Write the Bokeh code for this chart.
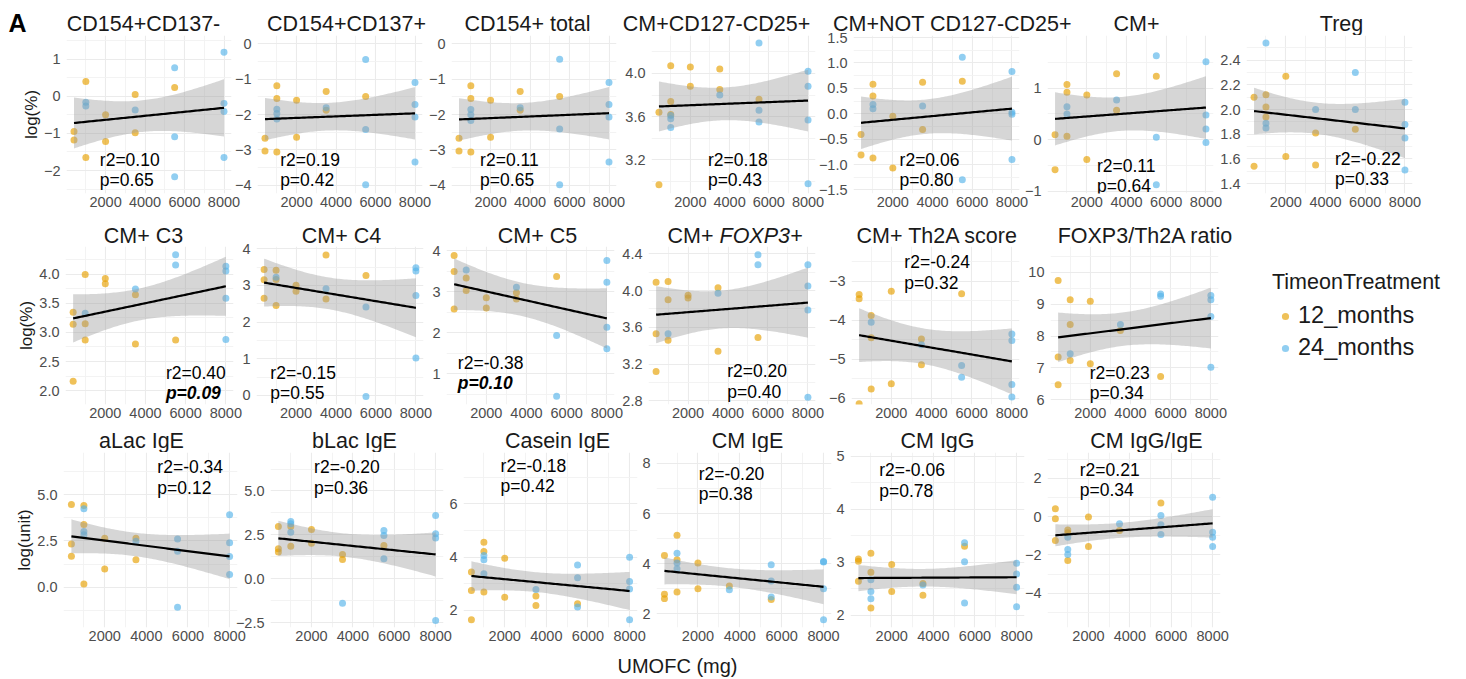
import numpy as np
from bokeh.plotting import figure
from bokeh.layouts import row, column
from bokeh.models import Range1d, FixedTicker, Label, Legend, LegendItem, CustomJSTickFormatter
from bokeh.embed import file_html
from bokeh.resources import INLINE

# ---------------- data ----------------
GROUPS = ["12_months", "24_months"]
X_TICKS = [2000, 4000, 6000, 8000]
X_MINOR = [1000, 3000, 5000, 7000]

TITLES = ["CD154+CD137-", "CD154+CD137+", "CD154+ total", "CM+CD127-CD25+", "CM+NOT CD127-CD25+",
          "CM+", "Treg", "CM+ C3", "CM+ C4", "CM+ C5", "CM+ FOXP3+", "CM+ Th2A score",
          "FOXP3/Th2A ratio", "aLac IgE", "bLac IgE", "Casein IgE", "CM IgE", "CM IgG", "CM IgG/IgE"]
STAT_R2 = ["0.10", "0.19", "0.11", "0.18", "0.06", "0.11", "-0.22", "0.40", "-0.15", "-0.38",
           "0.20", "-0.24", "0.23", "-0.34", "-0.20", "-0.18", "-0.20", "-0.06", "0.21"]
STAT_P = ["0.65", "0.42", "0.65", "0.43", "0.80", "0.64", "0.33", "0.09", "0.55", "0.10",
          "0.40", "0.32", "0.34", "0.12", "0.36", "0.42", "0.38", "0.78", "0.34"]
Y_LABELS = {0: "log(%)", 7: "log(%)", 13: "log(unit)"}
X_LABEL = "UMOFC (mg)"
LEGEND_TITLE = "TimeonTreatment"

p01_12x = [400, 400, 1000, 1000, 2000, 2000, 3500, 3500, 5500]
p01_12y = [-0.95, -1.18, 0.40, -1.65, -0.50, -1.22, 0.05, -0.98, 0.24]
p01_24x = [1000, 1000, 3500, 5500, 5500, 5500, 8000, 8000, 8000, 8000]
p01_24y = [-0.16, -0.26, -0.37, 0.77, -1.09, -2.17, 1.19, -0.19, -0.41, -1.65]

p02_12x = [400, 400, 1000, 1000, 1000, 2000, 2000, 3500, 3500, 5500]
p02_12y = [-2.67, -3.03, -1.19, -1.55, -3.06, -1.60, -2.64, -1.35, -1.88, -1.49]
p02_24x = [1000, 1000, 1000, 3500, 5500, 5500, 5500, 8000, 8000, 8000, 8000]
p02_24y = [-1.85, -1.97, -2.13, -1.81, -0.45, -2.42, -3.98, -1.10, -1.72, -2.07, -3.34]

p03_12x = [400, 400, 1000, 1000, 1000, 2000, 2000, 3500, 3500, 5500]
p03_12y = [-2.67, -3.03, -1.19, -1.55, -3.06, -1.60, -2.64, -1.35, -1.88, -1.49]
p03_24x = [1000, 1000, 1000, 3500, 5500, 5500, 5500, 8000, 8000, 8000, 8000]
p03_24y = [-1.86, -2.01, -2.17, -1.81, -0.44, -2.41, -3.98, -1.10, -1.72, -2.07, -3.34]

p04_12x = [400, 400, 1000, 1000, 1000, 2000, 2000, 3500, 3500, 5500]
p04_12y = [3.64, 2.97, 4.07, 3.74, 3.62, 4.06, 3.88, 4.04, 3.85, 3.76]
p04_24x = [1000, 1000, 1000, 3500, 5500, 5500, 5500, 8000, 8000, 8000, 8000]
p04_24y = [3.61, 3.58, 3.50, 3.80, 4.28, 3.66, 3.55, 4.02, 3.88, 3.57, 2.98]

p05_12x = [400, 400, 1000, 1000, 1000, 2000, 2000, 3500, 3500, 5500]
p05_12y = [-0.41, -0.81, 0.58, 0.35, -0.87, -0.05, -1.07, 0.62, -0.31, 0.64]
p05_24x = [1000, 1000, 3500, 5500, 5500, 8000, 8000, 8000, 8000]
p05_24y = [0.18, 0.10, 0.15, 1.11, -1.30, 0.83, 0.03, -0.01, -0.90]

p06_12x = [400, 400, 1000, 1000, 1000, 2000, 2000, 3500, 3500, 5500]
p06_12y = [0.10, -0.58, 1.07, 0.92, 0.07, 0.87, -0.38, 1.28, 0.57, 1.23]
p06_24x = [1000, 1000, 3500, 5500, 5500, 5500, 8000, 8000, 8000, 8000]
p06_24y = [0.64, 0.50, 0.77, 1.63, 0.05, -0.87, 1.51, 0.48, 0.21, -0.05]

p07_12x = [400, 400, 1000, 1000, 1000, 2000, 2000, 3500, 3500, 5500]
p07_12y = [2.10, 1.54, 2.12, 2.02, 1.94, 2.27, 1.62, 1.81, 1.55, 1.84]
p07_24x = [1000, 1000, 1000, 3500, 5500, 5500, 8000, 8000, 8000, 8000]
p07_24y = [2.54, 1.89, 1.85, 2.00, 2.30, 2.00, 2.06, 1.88, 1.77, 1.51]

p08_12x = [400, 400, 400, 1000, 1000, 1000, 2000, 2000, 3500, 3500, 5500]
p08_12y = [3.35, 3.14, 2.16, 4.00, 3.15, 2.87, 3.93, 3.84, 3.65, 2.80, 2.87]
p08_24x = [1000, 3500, 5500, 5500, 8000, 8000, 8000, 8000]
p08_24y = [3.33, 3.75, 4.34, 4.16, 4.14, 4.06, 3.59, 2.88]

p09_12x = [400, 400, 400, 1000, 1000, 1000, 2000, 2000, 3500, 3500, 5500]
p09_12y = [3.43, 3.15, 2.65, 3.41, 3.16, 2.45, 3.00, 2.84, 3.83, 2.63, 3.27]
p09_24x = [1000, 3500, 5500, 5500, 8000, 8000, 8000, 8000]
p09_24y = [3.22, 2.91, 2.41, -0.03, 3.48, 3.39, 2.72, 1.02]

p10_12x = [400, 400, 400, 1000, 1000, 2000, 2000, 3500, 3500, 5500]
p10_12y = [3.88, 3.49, 2.58, 3.33, 3.03, 2.85, 2.60, 2.97, 2.82, 3.37]
p10_24x = [1000, 3500, 5500, 5500, 8000, 8000, 8000, 8000]
p10_24y = [3.53, 3.11, 1.93, 0.45, 3.76, 3.23, 2.13, 1.61]

p11_12x = [400, 400, 400, 1000, 1000, 1000, 2000, 2000, 3500, 3500, 5500]
p11_12y = [4.09, 3.53, 3.12, 4.10, 3.90, 3.46, 3.95, 3.92, 4.03, 3.34, 3.49]
p11_24x = [1000, 3500, 5500, 5500, 8000, 8000, 8000, 8000]
p11_24y = [3.53, 3.97, 4.39, 4.28, 4.28, 4.05, 3.79, 2.84]

p12_12x = [400, 400, 400, 1000, 1000, 1000, 2000, 2000, 3500, 3500, 5500]
p12_12y = [-3.34, -3.45, -6.14, -3.88, -4.45, -5.76, -3.26, -5.63, -4.48, -5.14, -3.32]
p12_24x = [1000, 3500, 5500, 5500, 8000, 8000, 8000, 8000]
p12_24y = [-4.05, -4.63, -5.16, -5.46, -4.35, -4.52, -5.65, -5.97]

p13_12x = [400, 400, 400, 1000, 1000, 1000, 2000, 2000, 3500, 5500]
p13_12y = [9.74, 7.34, 6.47, 9.14, 8.36, 7.23, 9.09, 7.13, 8.17, 6.73]
p13_24x = [1000, 3500, 5500, 5500, 8000, 8000, 8000, 8000]
p13_24y = [7.44, 8.36, 9.32, 9.25, 9.27, 9.14, 8.61, 7.02]

p14_12x = [400, 400, 400, 1000, 1000, 1000, 2000, 2000, 3500, 3500]
p14_12y = [4.46, 2.34, 1.67, 4.41, 3.38, 0.18, 2.64, 0.99, 2.64, 1.49]
p14_24x = [1000, 1000, 1000, 3500, 5500, 5500, 5500, 8000, 8000, 8000, 8000]
p14_24y = [4.23, 3.01, 2.83, 2.48, 2.61, 1.94, -1.08, 3.91, 2.40, 1.66, 0.69]

p15_12x = [400, 400, 400, 1000, 1000, 2000, 2000, 3500, 3500, 5500]
p15_12y = [2.98, 1.71, 1.52, 2.98, 1.86, 2.81, 2.03, 1.38, 1.10, 1.90]
p15_24x = [1000, 1000, 1000, 3500, 5500, 5500, 5500, 8000, 8000, 8000, 8000]
p15_24y = [3.26, 3.13, 2.65, -1.39, 2.75, 2.47, 1.14, 3.60, 2.56, 2.33, -2.37]

p16_12x = [400, 400, 400, 1000, 1000, 1000, 2000, 2000, 3500, 3500, 5500]
p16_12y = [3.44, 2.75, 1.65, 4.56, 4.21, 2.69, 3.96, 2.50, 2.54, 2.19, 2.25]
p16_24x = [1000, 1000, 1000, 3500, 5500, 5500, 5500, 8000, 8000, 8000, 8000]
p16_24y = [4.06, 3.90, 3.38, 2.79, 3.71, 3.23, 2.13, 4.00, 3.09, 2.81, 1.65]

p17_12x = [400, 400, 400, 1000, 1000, 1000, 2000, 2000, 3500, 5500]
p17_12y = [4.33, 2.78, 2.61, 5.13, 4.16, 2.87, 4.03, 3.00, 3.11, 2.58]
p17_24x = [1000, 1000, 1000, 3500, 5500, 5500, 5500, 8000, 8000, 8000, 8000]
p17_24y = [4.42, 4.03, 3.80, 2.96, 3.96, 3.31, 2.67, 4.09, 4.07, 3.00, 1.77]

p18_12x = [400, 400, 400, 1000, 1000, 1000, 2000, 2000, 3500, 3500, 5500]
p18_12y = [3.06, 3.02, 2.64, 3.17, 2.81, 2.14, 2.96, 2.45, 2.60, 2.38, 3.30]
p18_24x = [1000, 1000, 1000, 3500, 5500, 5500, 5500, 8000, 8000, 8000, 8000]
p18_24y = [2.67, 2.45, 2.31, 2.57, 3.37, 3.01, 2.23, 2.98, 2.78, 2.53, 2.16]

p19_12x = [400, 400, 400, 1000, 1000, 1000, 2000, 2000, 3500, 5500]
p19_12y = [0.40, -0.12, -1.25, -0.70, -0.85, -2.30, -0.03, -1.56, -0.73, 0.71]
p19_24x = [1000, 1000, 1000, 3500, 5500, 5500, 5500, 8000, 8000, 8000, 8000]
p19_24y = [-1.08, -1.72, -1.98, -0.38, 0.05, -0.43, -0.94, 1.01, -0.82, -1.08, -1.56]

DATA = [
    (p01_12x, p01_12y, p01_24x, p01_24y), (p02_12x, p02_12y, p02_24x, p02_24y),
    (p03_12x, p03_12y, p03_24x, p03_24y), (p04_12x, p04_12y, p04_24x, p04_24y),
    (p05_12x, p05_12y, p05_24x, p05_24y), (p06_12x, p06_12y, p06_24x, p06_24y),
    (p07_12x, p07_12y, p07_24x, p07_24y), (p08_12x, p08_12y, p08_24x, p08_24y),
    (p09_12x, p09_12y, p09_24x, p09_24y), (p10_12x, p10_12y, p10_24x, p10_24y),
    (p11_12x, p11_12y, p11_24x, p11_24y), (p12_12x, p12_12y, p12_24x, p12_24y),
    (p13_12x, p13_12y, p13_24x, p13_24y), (p14_12x, p14_12y, p14_24x, p14_24y),
    (p15_12x, p15_12y, p15_24x, p15_24y), (p16_12x, p16_12y, p16_24x, p16_24y),
    (p17_12x, p17_12y, p17_24x, p17_24y), (p18_12x, p18_12y, p18_24x, p18_24y),
    (p19_12x, p19_12y, p19_24x, p19_24y),
]

# y-axis ticks per panel (major, minor, decimals)
Y_TICKS = [
    ([-2, -1, 0, 1], [-2.5, -1.5, -0.5, 0.5, 1.5], 0),
    ([-4, -3, -2, -1, 0], [-3.5, -2.5, -1.5, -0.5], 0),
    ([-4, -3, -2, -1, 0], [-3.5, -2.5, -1.5, -0.5], 0),
    ([3.2, 3.6, 4.0], [3.0, 3.4, 3.8, 4.2], 1),
    ([-1.5, -1.0, -0.5, 0.0, 0.5, 1.0, 1.5], [-1.25, -0.75, -0.25, 0.25, 0.75, 1.25], 1),
    ([-1, 0, 1], [-0.5, 0.5, 1.5], 0),
    ([1.4, 1.6, 1.8, 2.0, 2.2, 2.4], [1.5, 1.7, 1.9, 2.1, 2.3, 2.5], 1),
    ([2.0, 2.5, 3.0, 3.5, 4.0], [2.25, 2.75, 3.25, 3.75, 4.25], 1),
    ([0, 1, 2, 3, 4], [0.5, 1.5, 2.5, 3.5], 0),
    ([1, 2, 3, 4], [0.5, 1.5, 2.5, 3.5], 0),
    ([2.8, 3.2, 3.6, 4.0, 4.4], [3.0, 3.4, 3.8, 4.2], 1),
    ([-6, -5, -4, -3], [-5.5, -4.5, -3.5, -2.5], 0),
    ([6, 7, 8, 9, 10], [6.5, 7.5, 8.5, 9.5, 10.5], 0),
    ([0.0, 2.5, 5.0], [-1.25, 1.25, 3.75, 6.25], 1),
    ([-2.5, 0.0, 2.5, 5.0], [-1.25, 1.25, 3.75, 6.25], 1),
    ([2, 4, 6], [3, 5, 7], 0),
    ([2, 4, 6, 8], [3, 5, 7], 0),
    ([2, 3, 4, 5], [2.5, 3.5, 4.5], 0),
    ([-4, -2, 0, 2], [-5, -3, -1, 1, 3], 0),
]

# ---------------- layout / position spec ----------------
X_RANGE = (20, 8380)
Y_RANGES = [(-2.62, 1.64), (-4.23, 0.23), (-4.23, 0.23), (2.89, 4.35), (-1.57, 1.54), (-1.04, 2.02),
            (1.32, 2.60), (1.76, 4.48), (-0.25, 4.06), (0.25, 4.10), (2.76, 4.48), (-6.16, -2.11),
            (5.85, 10.81), (-2.17, 7.27), (-2.77, 7.19), (1.36, 7.93), (1.46, 8.43), (1.77, 5.07),
            (-5.79, 3.34)]
TEXT_POS = [(1708, -1.71), (1167, -3.28), (1470, -3.28), (2896, 3.20), (2340, -0.91), (2510, -0.50),
            (4474, 1.60), (5015, 2.31), (714, 0.62), (585, 1.27), (3961, 3.12), (2650, -2.51),
            (1975, 6.85), (4529, 6.48), (2126, 6.36), (1803, 7.44), (2035, 7.59), (1399, 4.74),
            (1580, 2.44)]
TITLE_X = [143, 346, 527, 716, 952, 1136, 1341, 143, 341, 537, 734, 937, 1145,
           141, 354, 557, 747, 937, 1146]
BOLD_P = {7, 9}
PAGE_W = 1466
ROWS = [  # (panel indices, frames L/R in page px, (row top, frame top, frame bottom, row bottom), title offset)
    (list(range(0, 7)), [(66, 231), (257, 422), (451, 616), (651, 815), (853, 1019), (1047, 1213), (1246, 1412)],
     (0, 35, 193, 222), 12),
    (list(range(7, 13)), [(65, 233), (256, 423), (446, 614), (648, 815), (851, 1019), (1050, 1218)],
     (222, 246, 404, 425), 11),
    (list(range(13, 19)), [(63, 237), (270, 443), (463, 637), (656, 831), (850, 1024), (1047, 1220)],
     (425, 452, 627, 648), 12),
]
XLABEL_BOX = (648, 679, 677, 665)  # top, bottom, centre x, centre y
LEGEND_BOX = (1272, 260)           # left, top
TAG_POS = (8, 22)                  # "A": left x, centre y (page px)
FONT = "Liberation Sans"
COL = {"12_months": "#E69F00", "24_months": "#56B4E9"}
T975 = {10: 2.228, 11: 2.201, 12: 2.179, 13: 2.160, 14: 2.145, 15: 2.131, 16: 2.120, 17: 2.110,
        18: 2.101, 19: 2.093, 20: 2.086, 21: 2.080, 22: 2.074, 23: 2.069, 24: 2.064, 25: 2.060}
OVER = 10  # how far the panel canvases reach up into the title strip


def smooth(x, y, n=80):
    x = np.asarray(x, float)
    y = np.asarray(y, float)
    N = len(x)
    b1, b0 = np.polyfit(x, y, 1)
    xs = np.linspace(x.min(), x.max(), n)
    yh = b0 + b1 * xs
    res = y - (b0 + b1 * x)
    s = np.sqrt(np.sum(res ** 2) / (N - 2))
    sxx = np.sum((x - x.mean()) ** 2)
    se = s * np.sqrt(1.0 / N + (xs - x.mean()) ** 2 / sxx)
    t = T975[N - 2]
    return xs, yh, yh - t * se, yh + t * se


def blank(width, height, xr, yr):
    f = figure(width=width, height=height, x_range=xr, y_range=yr, min_border=0,
               output_backend="svg", toolbar_location=None,
               background_fill_color=None, border_fill_color=None, outline_line_color=None)
    f.axis.visible = False
    f.grid.visible = False
    return f


def make_panel(i, L, R, rv, first):
    ct, ft, fb, cb = rv
    BL = L if first else 46
    BR = 14
    p = figure(width=BL + (R - L) + BR, height=cb - (ft - OVER),
               x_range=Range1d(*X_RANGE), y_range=Range1d(*Y_RANGES[i]),
               min_border_left=BL, min_border_right=BR, min_border_top=OVER, min_border_bottom=cb - fb,
               output_backend="svg", toolbar_location=None,
               background_fill_color=None, border_fill_color=None, outline_line_color=None)
    yt, ym, dec = Y_TICKS[i]
    p.xaxis.ticker = FixedTicker(ticks=X_TICKS, minor_ticks=X_MINOR)
    p.yaxis.ticker = FixedTicker(ticks=yt, minor_ticks=ym)
    p.xaxis.formatter = CustomJSTickFormatter(code="return tick.toFixed(0);")
    p.yaxis.formatter = CustomJSTickFormatter(code="return tick.toFixed(%d).replace('-', '\\u2212');" % dec)
    for ax in (p.xaxis[0], p.yaxis[0]):
        ax.axis_line_color = None
        ax.major_tick_line_color = None
        ax.minor_tick_line_color = None
        ax.major_tick_out = 0
        ax.major_tick_in = 0
        ax.minor_tick_out = 0
        ax.minor_tick_in = 0
        ax.major_label_text_font = FONT
        ax.major_label_text_font_size = "14.5px"
        ax.major_label_text_color = "#4D4D4D"
    p.xaxis.major_label_standoff = 3
    p.yaxis.major_label_standoff = 6
    if i in Y_LABELS:
        p.yaxis.axis_label = Y_LABELS[i]
        p.yaxis.axis_label_text_font = FONT
        p.yaxis.axis_label_text_font_size = "17px"
        p.yaxis.axis_label_text_font_style = "normal"
        p.yaxis.axis_label_text_color = "#1A1A1A"
        p.yaxis.axis_label_standoff = 0
    for g in (p.xgrid[0], p.ygrid[0]):
        g.grid_line_color = "#EBEBEB"
        g.grid_line_width = 1.1
        g.minor_grid_line_color = "#F2F2F2"
        g.minor_grid_line_width = 0.9

    x12, y12, x24, y24 = DATA[i]
    p.scatter(x12, y12, size=7, fill_color=COL["12_months"], fill_alpha=0.65, line_color=None)
    p.scatter(x24, y24, size=7, fill_color=COL["24_months"], fill_alpha=0.65, line_color=None)
    xs, yh, lo, hi = smooth(list(x12) + list(x24), list(y12) + list(y24))
    p.varea(x=xs, y1=lo, y2=hi, fill_color="#999999", fill_alpha=0.4)
    p.line(xs, yh, line_color="black", line_width=2.2)

    tx, ty = TEXT_POS[i]
    p.add_layout(Label(x=tx, y=ty, text="r2=" + STAT_R2[i], text_font=FONT, text_font_size="17.5px",
                       text_baseline="middle", text_align="left", text_color="black"))
    p.add_layout(Label(x=tx, y=ty, y_offset=-20.5, text="p=" + STAT_P[i], text_font=FONT,
                       text_font_size="17.5px", text_baseline="middle", text_align="left", text_color="black",
                       text_font_style="bold italic" if i in BOLD_P else "normal"))
    return p, L - BL, R + BR


def title_strip(idx, rv, toff, with_tag):
    ct, ft = rv[0], rv[1]
    h = ft - ct
    s = blank(PAGE_W, h, Range1d(0, PAGE_W), Range1d(0, h))
    for i in idx:
        cx = TITLE_X[i]
        t = TITLES[i]
        if t == "CM+ FOXP3+":
            s.add_layout(Label(x=cx - 21, y=toff, text="CM+", text_font=FONT, text_font_size="21.5px",
                               text_align="right", text_baseline="middle", text_color="#1A1A1A"))
            s.add_layout(Label(x=cx - 15, y=toff, text="FOXP3+", text_font=FONT, text_font_size="21.5px",
                               text_align="left", text_baseline="middle", text_font_style="italic",
                               text_color="#1A1A1A"))
        else:
            s.add_layout(Label(x=cx, y=toff, text=t, text_font=FONT, text_font_size="21.5px",
                               text_align="center", text_baseline="middle", text_color="#1A1A1A"))
    if with_tag:
        s.add_layout(Label(x=TAG_POS[0], y=h - TAG_POS[1], text="A", text_font=FONT, text_font_size="25px",
                           text_font_style="bold", text_align="left", text_baseline="middle",
                           text_color="black"))
    return s


items = []
for idx, frames, rv, toff in ROWS:
    items.append(title_strip(idx, rv, toff, idx[0] == 0))
    figs = []
    prev_right = 0
    for k, (i, (L, R)) in enumerate(zip(idx, frames)):
        p, cl, cr = make_panel(i, L, R, rv, k == 0)
        p.margin = (0, 0, 0, int(cl - prev_right))
        prev_right = cr
        figs.append(p)
    if idx[0] == 7:
        leg_left, leg_top = LEGEND_BOX
        top_canvas = rv[1] - OVER
        lf = blank(PAGE_W - leg_left, rv[3] - leg_top, Range1d(0, 1), Range1d(0, 1))
        # one off-frame point each so that the legend can draw its keys
        rs = [lf.scatter(x=[-5], y=[-5], size=7, fill_color=COL[g], fill_alpha=0.65, line_color=None)
              for g in GROUPS]
        leg = Legend(items=[LegendItem(label=g, renderers=[r]) for g, r in zip(GROUPS, rs)],
                     location="top_left", title=LEGEND_TITLE, margin=0, padding=0,
                     border_line_color=None, background_fill_alpha=0,
                     title_text_font=FONT, title_text_font_size="21.5px", title_text_color="#1A1A1A",
                     title_text_font_style="normal", title_standoff=7,
                     label_text_font=FONT, label_text_font_size="23.5px",
                     label_text_color="#1A1A1A", glyph_width=26, glyph_height=18,
                     label_standoff=0, spacing=5)
        lf.add_layout(leg)
        lf.margin = (leg_top - top_canvas, 0, 0, int(leg_left - prev_right))
        figs.append(lf)
    r = row(*figs, spacing=0)
    r.margin = (-OVER, 0, 0, 0)
    items.append(r)

xt, xb, xc, xy = XLABEL_BOX
xs_fig = blank(PAGE_W, xb - xt, Range1d(0, PAGE_W), Range1d(0, xb - xt))
xs_fig.add_layout(Label(x=xc, y=xb - xy, text=X_LABEL, text_font=FONT, text_font_size="20px",
                        text_align="center", text_baseline="middle", text_color="#1A1A1A"))
items.append(xs_fig)

layout = column(*items, spacing=0)
open("out.html", "w").write(file_html(layout, INLINE))
